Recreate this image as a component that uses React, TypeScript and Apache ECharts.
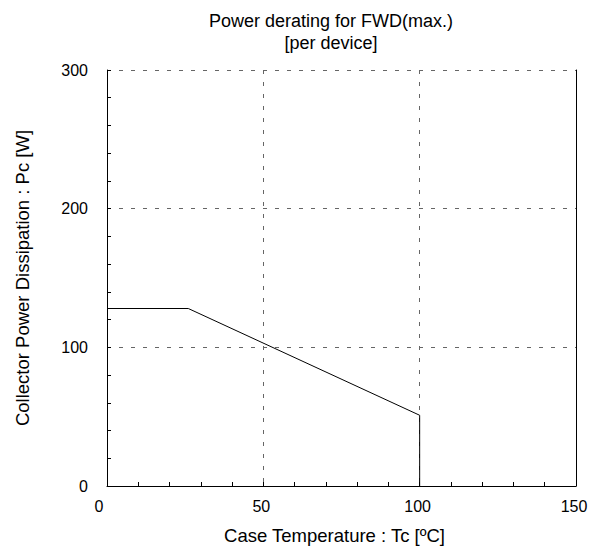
import React, { useEffect, useRef } from "react";
import * as echarts from "echarts";

const titleLines = ["Power derating for FWD(max.)", "[per device]"];
const xAxisName = "Case Temperature : Tc [ºC]";
const yAxisName = "Collector Power Dissipation : Pc [W]";
const caseTemp = [0, 26, 100, 100];
const powerDissipation = [128, 128, 51, 0];

export default function App() {
  const ref = useRef<HTMLDivElement>(null);
  useEffect(() => {
    if (!ref.current) return;
    const chart = echarts.init(ref.current, undefined, { renderer: "svg" });
    const font = "'Liberation Sans', Arial, sans-serif";
    chart.setOption({
      animation: false,
      backgroundColor: "#fff",
      title: {
        text: titleLines.join("\n"),
        left: 326,
        top: 5,
        textAlign: "center",
        textStyle: { fontFamily: font, fontSize: 18, fontWeight: "normal", color: "#000", lineHeight: 22 },
      },
      grid: { left: 107, top: 70, width: 469, height: 417, containLabel: false },
      xAxis: {
        type: "value",
        min: 0,
        max: 150,
        interval: 50,
        name: xAxisName,
        nameLocation: "middle",
        nameGap: 40,
        nameTextStyle: { fontFamily: font, fontSize: 18.5, color: "#000", padding: [0, 14, 0, 0] },
        axisLine: { show: true, lineStyle: { color: "#000", width: 1 } },
        axisTick: { show: true, inside: true, length: 4, lineStyle: { color: "#000" } },
        minorTick: { show: true, splitNumber: 5, length: 4, lineStyle: { color: "#000" } },
        axisLabel: {
          fontFamily: font,
          fontSize: 16,
          color: "#000",
          margin: 12,
          formatter: (v: number) => (v === 0 ? "{z|" + v + "}" : "{n|" + v + "}"),
          rich: {
            z: { fontFamily: font, fontSize: 16, color: "#000", padding: [0, 16, 0, 0] },
            n: { fontFamily: font, fontSize: 16, color: "#000", padding: [0, 4, 0, 0] },
          },
        },
        splitLine: { show: true, lineStyle: { color: "#666", type: [4, 8], width: 1 } },
      },
      yAxis: [
        {
          type: "value",
          min: 0,
          max: 300,
          interval: 100,
          name: yAxisName,
          nameLocation: "middle",
          nameGap: 75,
          nameTextStyle: { fontFamily: font, fontSize: 18.5, color: "#000" },
          axisLine: { show: true, lineStyle: { color: "#000", width: 1 } },
          axisTick: { show: true, inside: true, length: 4, lineStyle: { color: "#000" } },
          minorTick: { show: true, splitNumber: 5, length: 4, lineStyle: { color: "#000" } },
          axisLabel: { fontFamily: font, fontSize: 16, color: "#000", margin: 19 },
          splitLine: { show: true, lineStyle: { color: "#666", type: [4, 8], width: 1 } },
        },
        {
          type: "value",
          min: 0,
          max: 300,
          interval: 100,
          position: "right",
          axisLine: { show: true, onZero: false, lineStyle: { color: "#000", width: 1 } },
          axisTick: { show: false },
          axisLabel: { show: false },
          splitLine: { show: false },
        },
      ],
      series: [
        {
          type: "line",
          data: caseTemp.map((t, i) => [t, powerDissipation[i]]),
          showSymbol: false,
          symbol: "none",
          lineStyle: { color: "#000", width: 1 },
        },
      ],
    });
    return () => chart.dispose();
  }, []);
  return <div ref={ref} style={{ position: "fixed", left: 0, top: 0, width: 597, height: 550 }} />;
}
